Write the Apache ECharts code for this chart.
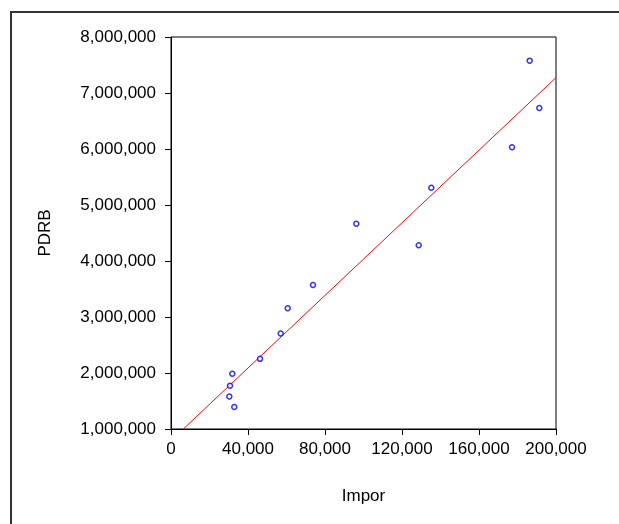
<!DOCTYPE html>
<html>
<head>
    <meta charset="utf-8"/>
    <title>PDRB vs Impor</title>
    <script src="https://cdn.jsdelivr.net/npm/echarts@6/dist/echarts.min.js"></script>
    <style>
        html, body { margin: 0; padding: 0; background: #fff; }
        #main { width: 619px; height: 524px; }
    </style>
</head>
<body>
<div id="main"></div>
<script>
    // data
    var imporX = [31850, 30650, 30290, 32880, 46240, 56990, 60630, 73770, 96260, 128680, 135220, 177150, 191330, 186340];
    var pdrbY = [1986000, 1772000, 1581000, 1392000, 2253000, 2704000, 3157000, 3572000, 4665000, 4280000, 5307000, 6032000, 6733000, 7578000];
    // fitted line ends
    var fitX = [6400, 200000];
    var fitY = [1000000, 7275000];

    var xTicks = [0, 40000, 80000, 120000, 160000, 200000];
    var yTicks = [1000000, 2000000, 3000000, 4000000, 5000000, 6000000, 7000000, 8000000];

    function fmt(v) {
        return String(v).replace(/\B(?=(\d{3})+(?!\d))/g, ',');
    }

    var pts = imporX.map(function (x, i) { return [x, pdrbY[i]]; });
    var fit = fitX.map(function (x, i) { return [x, fitY[i]]; });

    var font = 'Liberation Sans, Arial, sans-serif';
    var myChart = echarts.init(document.getElementById('main'));
    var option = {
        animation: false,
        graphic: [{
            type: 'rect',
            shape: {x: 11, y: 12, width: 700, height: 600},
            style: {fill: 'none', stroke: '#333', lineWidth: 2},
            silent: true
        }],
        grid: {
            left: 171, top: 37, width: 385, height: 392,
            show: true, borderColor: '#000', borderWidth: 1
        },
        xAxis: {
            type: 'value',
            min: xTicks[0], max: xTicks[xTicks.length - 1], interval: 40000,
            name: 'Impor', nameLocation: 'middle', nameGap: 59,
            nameTextStyle: {color: '#000', fontSize: 17, fontFamily: font},
            axisLine: {show: true, lineStyle: {color: '#000'}},
            axisTick: {show: true, length: 6, lineStyle: {color: '#000'}},
            axisLabel: {color: '#000', fontSize: 17, fontFamily: font, margin: 12, formatter: fmt},
            splitLine: {show: false}
        },
        yAxis: {
            type: 'value',
            min: yTicks[0], max: yTicks[yTicks.length - 1], interval: 1000000,
            name: 'PDRB', nameLocation: 'middle', nameGap: 117,
            nameTextStyle: {color: '#000', fontSize: 17, fontFamily: font},
            axisLine: {show: true, lineStyle: {color: '#000'}},
            axisTick: {show: true, length: 6, lineStyle: {color: '#000'}},
            axisLabel: {color: '#000', fontSize: 17, fontFamily: font, margin: 15, formatter: fmt},
            splitLine: {show: false}
        },
        series: [{
            type: 'line',
            data: fit,
            symbol: 'none',
            lineStyle: {color: '#ff0000', width: 1},
            z: 2
        }, {
            type: 'scatter',
            data: pts,
            symbol: 'circle',
            symbolSize: 5,
            itemStyle: {color: '#fff', borderColor: '#0000ff', borderWidth: 1.5},
            z: 3
        }]
    };
    myChart.setOption(option);
</script>
</body>
</html>
